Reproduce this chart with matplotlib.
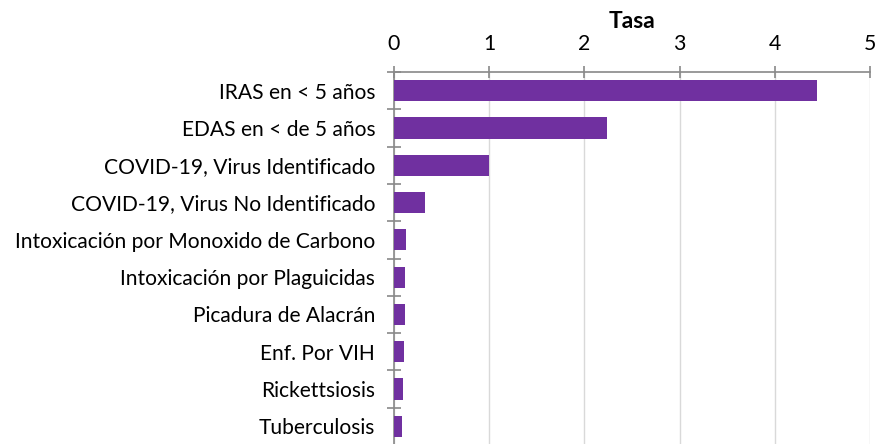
import matplotlib
matplotlib.use("Agg")
import matplotlib.pyplot as plt
import numpy as np

categories = [
    "IRAS en < 5 años",
    "EDAS en < de 5 años",
    "COVID-19, Virus Identificado",
    "COVID-19, Virus No Identificado",
    "Intoxicación por Monoxido de Carbono",
    "Intoxicación por Plaguicidas",
    "Picadura de Alacrán",
    "Enf. Por VIH",
    "Rickettsiosis",
    "Tuberculosis",
]
values = [4.44, 2.24, 1.00, 0.33, 0.13, 0.12, 0.12, 0.10, 0.09, 0.08]
xticks = [0, 1, 2, 3, 4, 5]

plt.rcParams['font.family'] = ['Lato', 'DejaVu Sans']

fig = plt.figure(figsize=(8.79, 4.44), dpi=100)
ax = fig.add_axes([394/879, 1 - 445/444, (870-394)/879, (445-72)/444])

y = np.arange(len(categories))
ax.barh(y, values, height=0.57, color="#7030A0", zorder=3)

ax.set_xlim(0, 5)
ax.set_ylim(len(categories) - 0.5, -0.5)
ax.xaxis.set_ticks_position('top')
ax.xaxis.set_label_position('top')
ax.set_xticks(xticks)
ax.set_xticklabels([str(t) for t in xticks], fontsize=15.3)
ax.set_xlabel("Tasa", fontsize=16.5, fontweight='bold', labelpad=4)
ax.set_yticks(y)
ax.set_yticklabels(categories, fontsize=15.1)
ax.tick_params(axis='y', which='major', length=0, pad=13.5)
ax.set_yticks(np.arange(-0.5, len(categories), 1), minor=True)
ax.tick_params(axis='y', which='minor', length=10.5, direction='inout', color='#898989', width=1.2)
ax.tick_params(axis='x', which='major', length=8, direction='inout', color='#898989', width=1.2, pad=9)

ax.grid(axis='x', color='#D9D9D9', linewidth=1, zorder=0)
for s in ['right', 'bottom']:
    ax.spines[s].set_visible(False)
for s in ['left', 'top']:
    ax.spines[s].set_color('#898989')
    ax.spines[s].set_linewidth(1.2)

fig.savefig("out.png", dpi=100)
